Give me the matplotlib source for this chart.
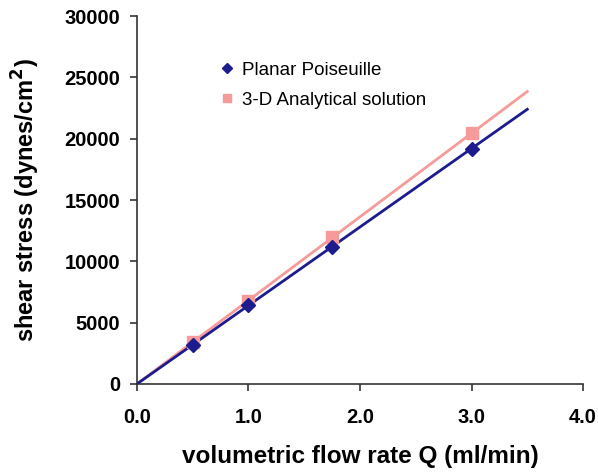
import matplotlib
matplotlib.use('Agg')
import matplotlib.pyplot as plt

# Flow rate (ml/min) and wall shear stress (dynes/cm^2)
flow_rate = [0.5, 1.0, 1.75, 3.0]
planar_stress = [3200, 6400, 11200, 19200]
analytic_stress = [3400, 6800, 12000, 20500]

# Linear trend lines through the origin
trend_x = [0.0, 3.5]
planar_trend = [0, 22400]
analytic_trend = [0, 23850]

x_ticks = [0.0, 1.0, 2.0, 3.0, 4.0]
y_ticks = [0, 5000, 10000, 15000, 20000, 25000, 30000]

navy = '#1c1c8e'
pink = '#f79a9a'

plt.rcParams['font.family'] = ['Liberation Sans', 'DejaVu Sans']

fig = plt.figure(figsize=(5.98, 4.74), dpi=100)
ax = fig.add_axes([0.229, 0.19, 0.746, 0.776])

ax.plot(trend_x, analytic_trend, color=pink, lw=2, zorder=2)
ax.plot(trend_x, planar_trend, color=navy, lw=2, zorder=3)
ax.plot(flow_rate, analytic_stress, 's', color=pink, ms=9, zorder=4,
        label='3-D Analytical solution')
ax.plot(flow_rate, planar_stress, 'D', color=navy, ms=7, zorder=5,
        label='Planar Poiseuille')

ax.set_xlim(0, 4.0)
ax.set_ylim(0, 30000)
ax.set_xticks(x_ticks)
ax.set_xticklabels([f'{v:.1f}' for v in x_ticks])
ax.set_yticks(y_ticks)
ax.set_yticklabels([str(v) for v in y_ticks])

for s in ['top', 'right']:
    ax.spines[s].set_visible(False)
for s in ['left', 'bottom']:
    ax.spines[s].set_color('#333333')
    ax.spines[s].set_linewidth(1.2)
ax.tick_params(direction='out', length=5, width=1.2, color='#333333',
               labelsize=14.5)
ax.tick_params(axis='x', pad=12)
ax.tick_params(axis='y', pad=7)
for lbl in ax.get_xticklabels() + ax.get_yticklabels():
    lbl.set_fontweight('bold')

ax.set_xlabel('volumetric flow rate Q (ml/min)', fontsize=17.5,
              fontweight='bold', labelpad=13)
ax.set_ylabel('shear stress (dynes/cm$^\\mathbf{2}$)', fontsize=17,
              fontweight='bold', labelpad=16)

handles, labels = ax.get_legend_handles_labels()
ax.legend(handles[::-1], labels[::-1], loc='upper left',
          bbox_to_anchor=(0.144, 0.922), frameon=False, fontsize=13.5,
          handletextpad=0.3, labelspacing=0.7, handlelength=1.0,
          markerscale=0.7)

fig.savefig('out.png', dpi=100)
